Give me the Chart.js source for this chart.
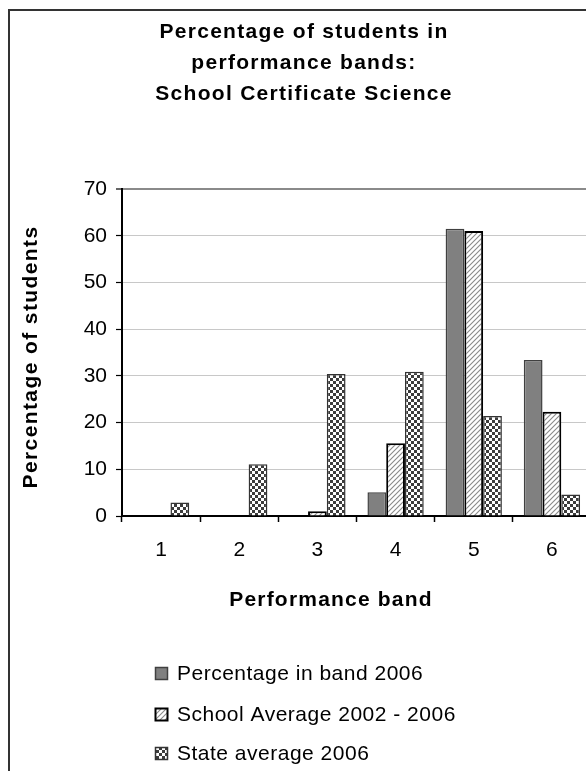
<!DOCTYPE html>
<html>
<head>
<meta charset="utf-8">
<title>Percentage of students in performance bands</title>
<script src="https://cdn.jsdelivr.net/npm/chart.js@4.4.1/dist/chart.umd.min.js"></script>
<style>
  html, body {
    margin: 0;
    padding: 0;
    width: 586px;
    height: 771px;
    overflow: hidden;
    background: #fff;
  }
  #frame {
    position: absolute;
    left: 8px;
    top: 9px;
    width: 700px;
    height: 900px;
    border: 2px solid #333;
    box-sizing: border-box;
  }
  #chart {
    position: absolute;
    left: 0;
    top: 0;
  }
</style>
</head>
<body>
<div id="frame"></div>
<canvas id="chart" width="610" height="771"></canvas>
<script>
// Chart data
const bands = ["1", "2", "3", "4", "5", "6"];
const band2006 = [0, 0, 0, 5.1, 61.5, 33.4];
const schoolAverage = [0, 0, 1.0, 15.6, 61.0, 22.3];
const stateAverage = [2.9, 11.1, 30.4, 30.9, 21.4, 4.6];
const seriesNames = [
  "Percentage in band 2006",
  "School Average 2002 - 2006",
  "State average 2006",
];
const titleLines = [
  "Percentage of students in",
  "performance bands:",
  "School Certificate Science",
];
const xTitle = "Performance band";
const yTitle = "Percentage of students";
const yMax = 70;
const yStep = 10;

const FONT = "'Liberation Sans', Arial, Helvetica, sans-serif";
Chart.defaults.font.family = FONT;

// Fill patterns
function makeStripes() {
  const tile = document.createElement("canvas");
  tile.width = 5;
  tile.height = 5;
  const c = tile.getContext("2d");
  c.fillStyle = "#fff";
  c.fillRect(0, 0, 5, 5);
  c.strokeStyle = "#8a8a8a";
  c.lineWidth = 1.1;
  c.beginPath();
  c.moveTo(-1, 6);
  c.lineTo(6, -1);
  c.moveTo(-2, 2);
  c.lineTo(2, -2);
  c.moveTo(3, 7);
  c.lineTo(7, 3);
  c.stroke();
  return c.createPattern(tile, "repeat");
}

function makeChecker() {
  const tile = document.createElement("canvas");
  tile.width = 6;
  tile.height = 6;
  const c = tile.getContext("2d");
  c.fillStyle = "#fff";
  c.fillRect(0, 0, 6, 6);
  c.fillStyle = "#3c3c3c";
  c.fillRect(0, 0, 3, 3);
  c.fillRect(3, 3, 3, 3);
  return c.createPattern(tile, "repeat");
}

const stripes = makeStripes();
const checker = makeChecker();

const seriesStyles = [
  { fill: "#808080", border: "#404040", width: 1.5 },
  { fill: stripes, border: "#000", width: 2 },
  { fill: checker, border: "#333", width: 1.5 },
];

// Titles and legend drawn at fixed places, like the original sheet
const textPlugin = {
  id: "sheetText",
  afterDraw(chart) {
    const ctx = chart.ctx;
    ctx.save();
    ctx.fillStyle = "#000";
    ctx.textAlign = "center";
    ctx.textBaseline = "alphabetic";

    // main title
    ctx.font = "bold 21px " + FONT;
    ctx.letterSpacing = "1.3px";
    const baselines = [38, 69, 100];
    titleLines.forEach((line, i) => {
      ctx.fillText(line, 304, baselines[i]);
    });

    // x axis title
    ctx.letterSpacing = "1.2px";
    ctx.fillText(xTitle, 331, 606);

    // y axis title
    ctx.save();
    ctx.translate(37, 357);
    ctx.rotate(-Math.PI / 2);
    ctx.letterSpacing = "1.4px";
    ctx.fillText(yTitle, 0, 0);
    ctx.restore();

    // legend
    ctx.textAlign = "left";
    ctx.font = "21px " + FONT;
    ctx.letterSpacing = "0.5px";
    const rows = [680, 721, 760];
    chart.data.datasets.forEach((ds, i) => {
      const y = rows[i];
      const style = seriesStyles[i];
      ctx.fillStyle = style.fill;
      ctx.fillRect(155, y - 13, 13, 13);
      ctx.strokeStyle = style.border;
      ctx.lineWidth = style.width;
      ctx.strokeRect(155.5, y - 12.5, 12, 12);
      ctx.fillStyle = "#000";
      ctx.fillText(ds.label, 177, y);
    });
    ctx.restore();
  },
};

const datasets = [band2006, schoolAverage, stateAverage].map((values, i) => ({
  label: seriesNames[i],
  data: values,
  backgroundColor: seriesStyles[i].fill,
  borderColor: seriesStyles[i].border,
  borderWidth: seriesStyles[i].width,
  borderSkipped: "start",
  categoryPercentage: 0.72,
  barPercentage: 1.0,
}));

new Chart(document.getElementById("chart"), {
  type: "bar",
  data: {
    labels: bands,
    datasets: datasets,
  },
  options: {
    responsive: false,
    animation: false,
    layout: {
      padding: { top: 189, left: 10, right: 19, bottom: 205 },
    },
    plugins: {
      legend: { display: false },
      title: { display: false },
      tooltip: { enabled: false },
    },
    scales: {
      x: {
        grid: {
          display: true,
          drawOnChartArea: false,
          drawTicks: true,
          tickLength: 6,
          tickColor: "#000",
          tickWidth: 1.5,
          offset: true,
        },
        border: { color: "#000", width: 2 },
        ticks: {
          color: "#000",
          font: { size: 21 },
          padding: 16,
        },
        afterFit: (scale) => {
          scale.height = 50;
        },
      },
      y: {
        min: 0,
        max: yMax,
        ticks: {
          stepSize: yStep,
          color: "#000",
          font: { size: 21 },
          padding: 9,
        },
        grid: {
          color: (c) => (c.tick && c.tick.value === yMax ? "#8a8a8a" : "#c8c8c8"),
          lineWidth: (c) => (c.tick && c.tick.value === yMax ? 2 : 1),
          tickLength: 6,
          tickColor: "#000",
          tickWidth: 1.2,
        },
        border: { color: "#000", width: 2 },
        afterFit: (scale) => {
          scale.width = 112;
        },
      },
    },
  },
  plugins: [textPlugin],
});
</script>
</body>
</html>
